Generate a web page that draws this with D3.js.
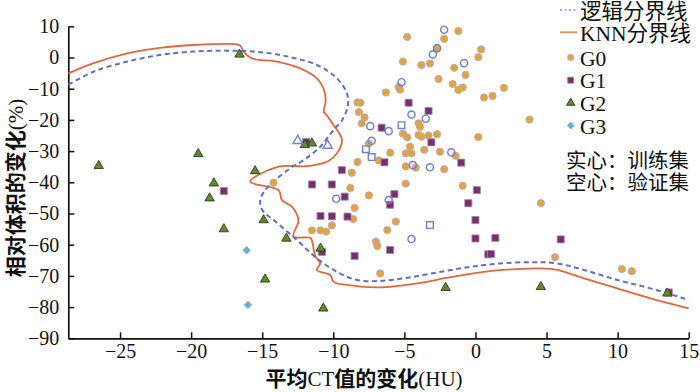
<!DOCTYPE html>
<html>
<head>
<meta charset="utf-8">
<script src="https://cdn.jsdelivr.net/npm/d3@7.9.0/dist/d3.min.js"></script>
<style>
  body { margin: 0; background: #fff; }
  svg { display: block; }
</style>
</head>
<body>
<div id="chart"></div>
<script>
// 轴刻度
const xTicks = [-25, -20, -15, -10, -5, 0, 5, 10, 15];
const yTicks = [-90, -80, -70, -60, -50, -40, -30, -20, -10, 0, 10];

// 训练集 (实心)
const g0Train = [
  [-4.8, 6.6], [-1.2, 8.5], [-2.2, 6.0], [-2.7, 2.9], [0.4, 2.6], [0.2, 0.1],
  [-1.5, -3.3], [-3.2, -1.9], [-3.8, -2.4], [-5.1, -1.3], [-0.7, -5.6], [-2.6, -6.9],
  [-1.6, -8.5], [-0.9, -9.6], [-1.2, -10.4], [2.0, -9.7], [1.2, -12.3], [0.6, -12.8],
  [3.8, -19.9], [-5.4, -9.5], [-5.3, -10.3], [-6.3, -11.2], [-8.3, -14.4], [-8.1, -14.5],
  [-8.2, -17.5], [-7.8, -19.2], [-8.0, -21.1], [-4.0, -21.1], [-3.9, -22.2], [-5.1, -24.4],
  [-4.8, -25.6], [-4.0, -24.8], [-3.8, -25.4], [-3.3, -25.0], [-2.7, -24.6], [0.2, -25.5],
  [-7.5, -27.6], [-6.8, -33.0], [-6.0, -30.5], [-4.9, -30.7], [-4.5, -30.7], [-4.6, -28.6],
  [-3.6, -29.6], [-2.5, -30.2], [-1.4, -31.5], [-2.2, -35.8], [-4.9, -34.9], [-4.2, -35.3],
  [-4.9, -40.4], [-0.9, -41.1], [4.6, -46.7], [-8.3, -33.5], [-8.7, -36.9], [-8.8, -41.8],
  [-7.5, -44.2], [-8.5, -48.2], [-8.6, -51.8], [-10.1, -53.8], [-11.5, -55.4], [-10.9, -55.4],
  [-10.5, -55.8], [-5.6, -52.6], [-6.2, -55.3], [-7.0, -59.0], [-6.9, -60.4], [-6.7, -69.2],
  [-14.2, -40.1], [5.6, -64.0], [10.3, -67.8], [11.0, -68.5]
];
const g1Train = [
  [-4.7, -14.5], [-3.3, -17.1], [-6.6, -22.5], [-3.1, -27.2], [-11.9, -27.1], [-1.0, -33.7],
  [-6.4, -33.6], [-9.4, -36.1], [-11.5, -40.7], [-10.1, -40.7], [-17.7, -42.8], [0.1, -42.5],
  [-9.2, -44.6], [-5.7, -43.8], [-6.0, -47.2], [-0.5, -46.7], [-10.9, -50.8], [-10.1, -50.9],
  [-9.0, -51.0], [0.0, -52.1], [0.0, -58.0], [1.4, -57.8], [6.0, -58.3], [-10.8, -62.3],
  [-6.0, -61.7], [-8.5, -63.6], [0.9, -63.1], [1.1, -63.0], [13.6, -75.3]
];
const g2Train = [
  [-16.6, 1.0], [-12.0, -28.0], [-11.5, -27.5], [-19.5, -30.9], [-26.5, -34.7], [-15.5, -36.4],
  [-18.4, -40.3], [-18.7, -45.1], [-17.7, -55.0], [-14.9, -52.1], [-13.3, -58.0], [-14.8, -71.1],
  [-10.9, -61.2], [-10.7, -80.4], [-2.1, -73.8], [4.6, -73.5], [13.5, -75.6]
];
const g3Train = [[-16.1, -61.8], [-16.0, -79.3]];

// 验证集 (空心)
const g0Valid = [
  [-2.2, 8.9], [-2.7, 3.0], [-3.0, 1.0], [-0.8, -1.8], [-5.2, -7.9], [-4.5, -18.3],
  [-3.5, -19.6], [-7.4, -22.0], [-6.1, -23.6], [-7.3, -26.7], [-1.7, -30.4], [-4.4, -34.5],
  [-3.2, -35.2], [-9.8, -45.3], [-6.1, -45.7], [-4.5, -58.2]
];
const g1Valid = [[-5.2, -21.7], [-7.7, -29.4], [-7.3, -31.9], [-3.2, -53.7]];
const g2Valid = [[-12.5, -26.7], [-10.4, -28.2]];

// 分界线
const logitBoundary = [
  [-28.64, -8.8], [-26.9, -4.6], [-24.5, -1.3], [-22.2, 0.8], [-19.8, 1.9], [-17.5, 2.2],
  [-15.1, 1.7], [-13.0, 0.1], [-11.15, -2.4], [-9.74, -6.7], [-9.04, -11.5], [-8.98, -15.5],
  [-9.37, -20.0], [-9.98, -23.2], [-10.92, -28.6], [-12.09, -32.9], [-13.03, -35.5], [-14.08, -39.3],
  [-14.79, -42.5], [-15.14, -45.7], [-15.0, -48.9], [-14.2, -52.1], [-12.56, -58.5], [-11.15, -64.4],
  [-9.74, -68.7], [-8.33, -71.3], [-6.69, -71.6], [-4.81, -70.6], [-2.46, -68.7], [-0.35, -67.1],
  [1.76, -66.0], [4.11, -65.6], [5.75, -66.0], [7.63, -68.1], [9.98, -71.3], [12.32, -74.0],
  [15.0, -77.7]
];
const knnBoundary = [
  [-28.64, -5.1], [-26.9, -1.9], [-24.5, 1.3], [-22.2, 3.1], [-19.8, 4.0], [-16.8, 4.2],
  [-16.55, 3.8], [-16.2, 1.3], [-15.73, -0.3], [-13.96, -1.3], [-12.32, -3.5], [-11.15, -6.7],
  [-10.7, -9.8], [-10.53, -13.6], [-10.67, -17.5], [-10.56, -18.0], [-9.98, -21.6], [-9.39, -26.4],
  [-9.74, -30.7], [-10.33, -33.2], [-11.15, -34.3], [-12.09, -34.9], [-12.8, -34.8], [-13.85, -35.0],
  [-15.85, -39.8], [-13.85, -42.5], [-13.61, -45.7], [-12.91, -47.8], [-12.54, -50.5], [-12.46, -52.7],
  [-12.8, -57.4], [-11.62, -57.8], [-11.48, -59.1], [-11.27, -63.6], [-10.92, -66.0], [-11.15, -68.1],
  [-10.21, -69.7], [-9.98, -71.9], [-9.04, -72.9], [-6.69, -73.7], [-4.11, -72.4], [-1.76, -70.4],
  [0.58, -68.7], [2.94, -67.8], [4.58, -67.6], [5.75, -68.1], [7.63, -70.8], [9.98, -74.0],
  [12.32, -77.2], [15.0, -80.4]
];

const legendLabels = ['逻辑分界线', 'KNN分界线', 'G0', 'G1', 'G2', 'G3'];
const noteLabels = ['实心：训练集', '空心：验证集'];

const SERIF = '"Liberation Serif", "Times New Roman", "Noto Sans CJK SC", serif';
const CJK = '"Noto Sans CJK SC", sans-serif';

const colors = {
  g0: '#e8a23a', g1: '#7a2c72', g2: '#5e8b2c', g3: '#5ab6d8',
  open: '#6f80cf', logit: '#5a70c4', knn: '#e0673f'
};

const width = 700, height = 392;
const svg = d3.select('#chart').append('svg')
  .attr('width', width).attr('height', height);

const x = d3.scaleLinear().domain([-28.64, 15]).range([68.3, 688.7]);
const y = d3.scaleLinear().domain([-90, 10]).range([338.3, 26.3]);

// 坐标轴
const xAxis = svg.append('g')
  .attr('transform', `translate(0,${y(-90)})`)
  .call(d3.axisBottom(x).tickValues(xTicks).tickSizeInner(-6).tickSizeOuter(0).tickPadding(6));
const yAxis = svg.append('g')
  .attr('transform', `translate(${x(-28.64)},0)`)
  .call(d3.axisLeft(y).tickValues(yTicks).tickSizeInner(-6).tickSizeOuter(0).tickPadding(9));

[xAxis, yAxis].forEach(g => {
  g.attr('font-family', SERIF).attr('font-size', 20);
  g.select('.domain').attr('stroke', '#111').attr('stroke-width', 1.7);
  g.selectAll('.tick line').attr('stroke', '#111').attr('stroke-width', 1.5);
  g.selectAll('.tick text').attr('fill', '#111');
});

// 分界线
const line = d3.line()
  .x(d => x(d[0])).y(d => y(d[1]))
  .curve(d3.curveCatmullRom.alpha(0.5));

svg.append('path').datum(knnBoundary)
  .attr('d', line).attr('fill', 'none')
  .attr('stroke', colors.knn).attr('stroke-width', 1.8);

svg.append('path').datum(logitBoundary)
  .attr('d', line).attr('fill', 'none')
  .attr('stroke', colors.logit).attr('stroke-width', 2)
  .attr('stroke-dasharray', '5,3.5');

// 散点
function drawPoints(data, type, size, fill, stroke, sw, rot) {
  const sym = d3.symbol().type(type).size(size);
  svg.append('g').selectAll('path')
    .data(data)
    .join('path')
    .attr('d', sym)
    .attr('transform', d => `translate(${x(d[0])},${y(d[1])}) rotate(${rot || 0})`)
    .attr('fill', fill)
    .attr('stroke', stroke)
    .attr('stroke-width', sw);
}

drawPoints(g0Train, d3.symbolCircle, 42, colors.g0, '#a9b0cc', 0.9);
drawPoints(g1Train, d3.symbolSquare, 50, colors.g1, '#9b8f98', 0.9);
drawPoints(g2Train, d3.symbolTriangle, 38, colors.g2, '#2c3a1a', 0.9);
drawPoints(g3Train, d3.symbolSquare, 26, colors.g3, '#8a9aa6', 0.9, 45);
drawPoints(g0Valid, d3.symbolCircle, 40, 'none', colors.open, 1.4);
drawPoints(g1Valid, d3.symbolSquare, 44, 'none', colors.open, 1.4);
drawPoints(g2Valid, d3.symbolTriangle, 38, 'none', colors.open, 1.4);

// 图例
const legend = svg.append('g');
const rowY = i => i < 2 ? 10 + i * 22.3 : 57.5 + (i - 2) * 22.7;

legend.append('line')
  .attr('x1', 560).attr('x2', 577).attr('y1', rowY(0)).attr('y2', rowY(0))
  .attr('stroke', '#9fb6e0').attr('stroke-width', 1.8).attr('stroke-dasharray', '2,2.5');
legend.append('line')
  .attr('x1', 560).attr('x2', 577).attr('y1', rowY(1)).attr('y2', rowY(1))
  .attr('stroke', '#e88a6a').attr('stroke-width', 1.8);

const legendSyms = [
  [d3.symbolCircle, 32, colors.g0, '#a9b0cc', 0],
  [d3.symbolSquare, 36, colors.g1, '#9b8f98', 0],
  [d3.symbolTriangle, 30, colors.g2, '#2c3a1a', 0],
  [d3.symbolSquare, 22, colors.g3, '#8a9aa6', 45]
];
legendSyms.forEach((s, i) => {
  legend.append('path')
    .attr('d', d3.symbol().type(s[0]).size(s[1]))
    .attr('transform', `translate(570.7,${rowY(i + 2)}) rotate(${s[4]})`)
    .attr('fill', s[2]).attr('stroke', s[3]).attr('stroke-width', 0.9);
});

legend.selectAll('text.lab')
  .data(legendLabels)
  .join('text')
  .attr('class', 'lab')
  .attr('x', 580)
  .attr('y', (d, i) => rowY(i) + (i < 2 ? 8.5 : 8.2))
  .attr('font-family', SERIF)
  .attr('font-size', 21.5)
  .attr('fill', '#111')
  .text(d => d);

// 实心/空心说明 (一个 text, 两行)
legend.append('text')
  .attr('class', 'note')
  .attr('font-family', CJK)
  .attr('font-size', 20.5)
  .attr('fill', '#111')
  .selectAll('tspan')
  .data(noteLabels)
  .join('tspan')
  .attr('x', 566)
  .attr('y', (d, i) => 167.5 + i * 22.5)
  .text(d => d);

// 轴标题
function addTitle(g, parts, size) {
  const t = g.append('text').attr('text-anchor', 'middle').attr('fill', '#111').attr('font-size', size);
  parts.forEach(p => {
    t.append('tspan')
      .attr('font-family', p[1] ? CJK : SERIF)
      .attr('font-weight', p[1] ? 700 : 400)
      .text(p[0]);
  });
  return t;
}

addTitle(svg.append('g').attr('transform', 'translate(364,385.5)'),
  [['平均', true], ['CT', false], ['值的变化', true], ['(HU)', false]], 21);

addTitle(svg.append('g').attr('transform', 'translate(22.5,188) rotate(-90)'),
  [['相对体积的变化', true], ['(%)', false]], 21);
</script>
</body>
</html>
